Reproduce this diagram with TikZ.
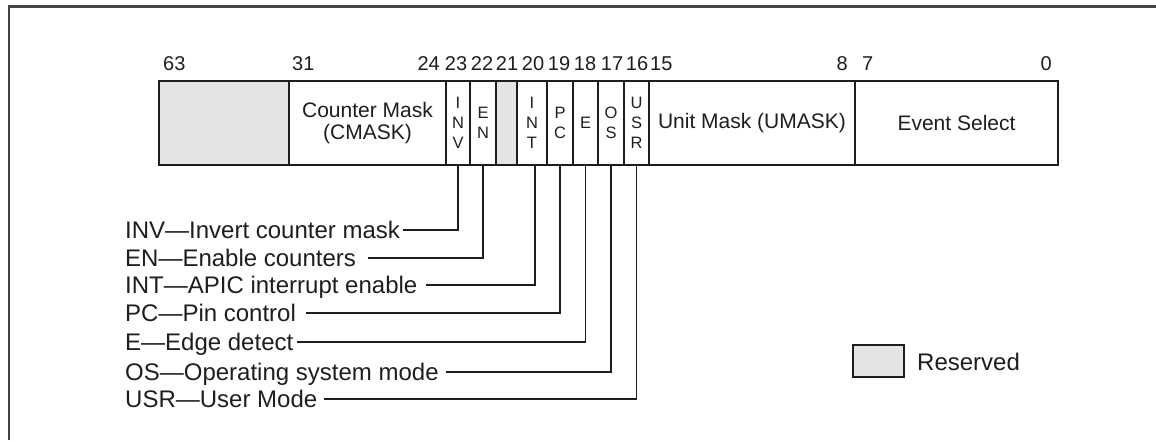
\documentclass[tikz,border=0pt]{standalone}
\usepackage{fontspec}
\setmainfont{Liberation Sans}
\definecolor{resgray}{HTML}{E4E4E4}
\definecolor{ink}{HTML}{1E1E1E}
\definecolor{framec}{HTML}{444444}
\begin{document}
\begin{tikzpicture}[x=1pt,y=-1pt,
  cell/.style={draw=ink,line width=1.6pt,rectangle,inner sep=0pt,outer sep=0pt,
    minimum height=84pt,align=center,text=ink,font=\fontsize{21}{22}\selectfont},
  rescell/.style={cell,fill=resgray},
  vcell/.style={cell,font=\fontsize{16.5}{20}\selectfont},
  bitlbl/.style={inner sep=0pt,text=ink,font=\fontsize{20}{22}\selectfont},
  desc/.style={inner sep=3pt,text=ink,font=\fontsize{24}{26}\selectfont,
    text height=17pt,text depth=0pt,anchor=west},
  leader/.style={draw=ink,line width=1.4pt}
]
\useasboundingbox (0,0) rectangle (1156,440);
% frame (only left and top edges visible)
\draw[framec,line width=2.4pt] (9,440) -- (9,6.5) -- (1156,6.5);

% register cells
\node[rescell,minimum width=130pt] (res63) at (224,123) {};
\node[cell,minimum width=157pt] (cmask) at (367.5,123) {Counter Mask\\(CMASK)};
\node[vcell,minimum width=24pt] (inv) at (458,123) {I\\N\\V};
\node[vcell,minimum width=26pt] (en) at (483,123) {E\\N};
\node[rescell,minimum width=21pt] (r21) at (506.5,123) {};
\node[vcell,minimum width=30pt] (int) at (532,123) {I\\N\\T};
\node[vcell,minimum width=26pt] (pc) at (560,123) {P\\C};
\node[vcell,minimum width=25pt] (e) at (585.5,123) {E};
\node[vcell,minimum width=26pt] (os) at (611,123) {O\\S};
\node[vcell,minimum width=25pt] (usr) at (636.5,123) {U\\S\\R};
\node[cell,minimum width=206pt] (umask) at (752,123) {Unit Mask (UMASK)};
\node[cell,minimum width=203pt] (evsel) at (956.5,123) {Event Select};

% bit numbers
\node[bitlbl,anchor=base west] (b63) at (163,70) {63};
\node[bitlbl,anchor=base west] (b31) at (292,70) {31};
\node[bitlbl,anchor=base east] (b24) at (440,70) {24};
\node[bitlbl,anchor=base] (b23) at (456,70) {23};
\node[bitlbl,anchor=base] (b22) at (482,70) {22};
\node[bitlbl,anchor=base] (b21) at (507,70) {21};
\node[bitlbl,anchor=base] (b20) at (533,70) {20};
\node[bitlbl,anchor=base] (b19) at (559,70) {19};
\node[bitlbl,anchor=base] (b18) at (585,70) {18};
\node[bitlbl,anchor=base] (b17) at (612,70) {17};
\node[bitlbl,anchor=base] (b16) at (637,70) {16};
\node[bitlbl,anchor=base west] (b15) at (650,70) {15};
\node[bitlbl,anchor=base east] (b8) at (848,70) {8};
\node[bitlbl,anchor=base west] (b7) at (862,70) {7};
\node[bitlbl,anchor=base east] (b0) at (1052,70) {0};

% descriptions
\node[desc] (tinv) at (122,230) {INV—Invert counter mask};
\node[desc] (ten) at (122,258) {EN—Enable counters\kern9pt};
\node[desc] (tint) at (122,285) {INT—APIC interrupt enable\kern5pt};
\node[desc] (tpc) at (122,313) {PC—Pin control\kern7pt};
\node[desc] (te) at (122,342) {E—Edge detect};
\node[desc] (tos) at (122,372) {OS—Operating system mode\kern4pt};
\node[desc] (tusr) at (122,399) {USR—User Mode\kern4pt};

% leaders
\draw[leader] (inv.south) |- (tinv.east);
\draw[leader] (en.south) |- (ten.east);
\draw[leader] ([xshift=3pt]int.south) |- (tint.east);
\draw[leader] (pc.south) |- (tpc.east);
\draw[leader] (e.south) |- (te.east);
\draw[leader] (os.south) |- (tos.east);
\draw[leader] (usr.south) |- (tusr.east);

% legend
\node[draw=ink,line width=1.5pt,fill=resgray,minimum width=51pt,minimum height=32pt,inner sep=0pt] (legbox) at (878.5,361) {};
\node[desc,inner sep=0pt] (legtxt) at (917,362) {Reserved};
\end{tikzpicture}
\end{document}
